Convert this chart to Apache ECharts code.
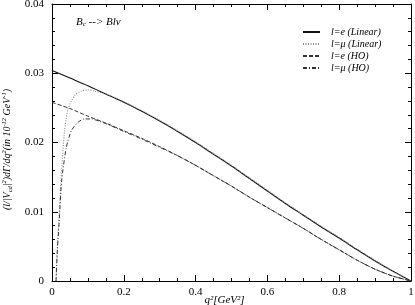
<!DOCTYPE html>
<html>
<head>
<meta charset="utf-8">
<script src="https://cdn.jsdelivr.net/npm/echarts@6/dist/echarts.min.js"></script>
<style>html,body{margin:0;padding:0;background:#fff}#c{width:415px;height:305px}</style>
</head>
<body>
<div id="c"></div>
<script>
const seriesNames = ['l=e (Linear)', 'l=μ (Linear)', 'l=e (HO)', 'l=μ (HO)'];
const xTicks = [0, 0.2, 0.4, 0.6, 0.8, 1];
const yTicks = [0, 0.01, 0.02, 0.03, 0.04];

const eLinear = [[0,0.0304],[0.05,0.0293],[0.1,0.0282],[0.15,0.0270],[0.2,0.0258],[0.25,0.0245],[0.3,0.0231],[0.35,0.0216],[0.4,0.0200],[0.45,0.0183],[0.5,0.0166],[0.55,0.0148],[0.6,0.0130],[0.65,0.0112],[0.7,0.0095],[0.75,0.0078],[0.8,0.0062],[0.85,0.0045],[0.9,0.0029],[0.95,0.0014],[1.0,0]];
const muLinear = [[0.0112,0],[0.015,0.0050],[0.02,0.0095],[0.026,0.0155],[0.035,0.0217],[0.045,0.0249],[0.063,0.0268],[0.08,0.0274],[0.1,0.0276],[0.12,0.0274],[0.15,0.0270],[0.2,0.0259],[0.25,0.0246],[0.3,0.0232],[0.35,0.0217],[0.4,0.0201],[0.45,0.0184],[0.5,0.0167],[0.55,0.0149],[0.6,0.0131],[0.65,0.0113],[0.7,0.0096],[0.75,0.0079],[0.8,0.0063],[0.85,0.0046],[0.9,0.0030],[0.95,0.0014],[1.0,0]];
const eHO = [[0,0.0258],[0.05,0.0249],[0.1,0.0238],[0.15,0.0228],[0.2,0.0217],[0.25,0.0206],[0.3,0.0194],[0.35,0.0181],[0.4,0.0167],[0.45,0.0152],[0.5,0.0137],[0.55,0.0121],[0.6,0.0106],[0.65,0.0091],[0.7,0.0076],[0.75,0.0060],[0.8,0.0045],[0.85,0.0030],[0.9,0.0017],[0.95,0.0007],[1.0,0]];
const muHO = [[0.0112,0],[0.015,0.0045],[0.02,0.0085],[0.027,0.0145],[0.04,0.0193],[0.054,0.0217],[0.072,0.0229],[0.09,0.0234],[0.11,0.0234],[0.13,0.0231],[0.156,0.0226],[0.2,0.0216],[0.25,0.0205],[0.3,0.0193],[0.35,0.0181],[0.4,0.0167],[0.45,0.0152],[0.5,0.0137],[0.55,0.0121],[0.6,0.0106],[0.65,0.0091],[0.7,0.0076],[0.75,0.0060],[0.8,0.0045],[0.85,0.0030],[0.9,0.0017],[0.95,0.0007],[1.0,0]];

const serif = '"Liberation Serif", "DejaVu Serif", serif';
const chart = echarts.init(document.getElementById('c'));

const mkX = (pos, labels) => ({
  type: 'value', position: pos, min: xTicks[0], max: xTicks[xTicks.length-1], interval: xTicks[1]-xTicks[0],
  axisLine: {show: true, onZero: false, lineStyle: {color: '#000', width: 1}},
  axisTick: {show: true, inside: true, length: 6, lineStyle: {color: '#000'}},
  minorTick: {show: true, splitNumber: 4, length: 3, lineStyle: {color: '#000'}},
  splitLine: {show: false},
  axisLabel: {show: labels, color: '#000', fontFamily: serif, fontSize: 11, margin: 6},
  name: labels ? 'q²[GeV²]' : '',
  nameLocation: 'middle', nameGap: 14, nameMoveOverlap: false,
  nameTextStyle: {color: '#000', fontFamily: serif, fontStyle: 'italic', fontSize: 11, lineHeight: 11, padding: [0, 14, 0, 0]}
});
const mkY = (pos, labels) => ({
  type: 'value', position: pos, min: yTicks[0], max: yTicks[yTicks.length-1], interval: yTicks[1]-yTicks[0],
  axisLine: {show: true, onZero: false, lineStyle: {color: '#000', width: 1}},
  axisTick: {show: true, inside: true, length: 6, lineStyle: {color: '#000'}},
  minorTick: {show: true, splitNumber: 5, length: 3, lineStyle: {color: '#000'}},
  splitLine: {show: false},
  axisLabel: {show: labels, color: '#000', fontFamily: serif, fontSize: 11, margin: 8},
  name: labels ? '{i|(l/|V}{b|cd}{i||}{s|2}{i|)dΓ/dq}{s|2}{i|(in 10}{s|-12}{i| GeV}{s|-1}{i|)}' : '',
  nameLocation: 'middle', nameGap: 38, nameRotate: 90,
  nameTextStyle: {color: '#000', fontFamily: serif, fontSize: 10, padding: [0, 14, 0, 0], rich: {
    i: {fontStyle: 'italic', fontFamily: serif, fontSize: 10, color: '#000'},
    s: {fontStyle: 'italic', fontFamily: serif, fontSize: 6.5, color: '#000', padding: [0,0,6,0]},
    b: {fontStyle: 'italic', fontFamily: serif, fontSize: 6.5, color: '#000', padding: [5,0,0,0]}
  }}
});

const mkSeries = (name, data, color, type, width) => ({
  name, type: 'line', data, xAxisIndex: 0, yAxisIndex: 0,
  showSymbol: false, symbol: 'none', smooth: 0.25,
  lineStyle: {color, width, type}, itemStyle: {color}, z: 3
});

chart.setOption({
  animation: false,
  backgroundColor: '#fff',
  grid: {left: 52, right: 4, top: 4, bottom: 24, outerBoundsMode: 'none', containLabel: false},
  title: {
    text: '{b|B}{s|c}{b| --> Blν}', left: 71, top: 11,
    textStyle: {fontWeight: 'normal', rich: {
      b: {fontStyle: 'italic', fontWeight: 'normal', fontFamily: serif, fontSize: 11, color: '#000'},
      s: {fontStyle: 'italic', fontWeight: 'normal', fontFamily: serif, fontSize: 7, color: '#000', padding: [5,0,0,0]}
    }}
  },
  legend: {
    orient: 'vertical', left: 302, top: 27, padding: 0, itemWidth: 17, itemHeight: 8, itemGap: 2,
    itemStyle: {opacity: 0},
    textStyle: {fontFamily: serif, fontStyle: 'italic', fontSize: 10, lineHeight: 10, color: '#000', padding: [0,0,0,6]},
    data: seriesNames
  },
  xAxis: [mkX('bottom', true), mkX('top', false)],
  yAxis: [mkY('left', true), mkY('right', false)],
  series: [
    mkSeries(seriesNames[0], eLinear, '#111', 'solid', 1.1),
    mkSeries(seriesNames[1], muLinear, '#888', [1,1.5], 1.1),
    mkSeries(seriesNames[2], eHO, '#333', [4,2], 1),
    mkSeries(seriesNames[3], muHO, '#333', [4,2,1,2], 1)
  ]
});
</script>
</body>
</html>
